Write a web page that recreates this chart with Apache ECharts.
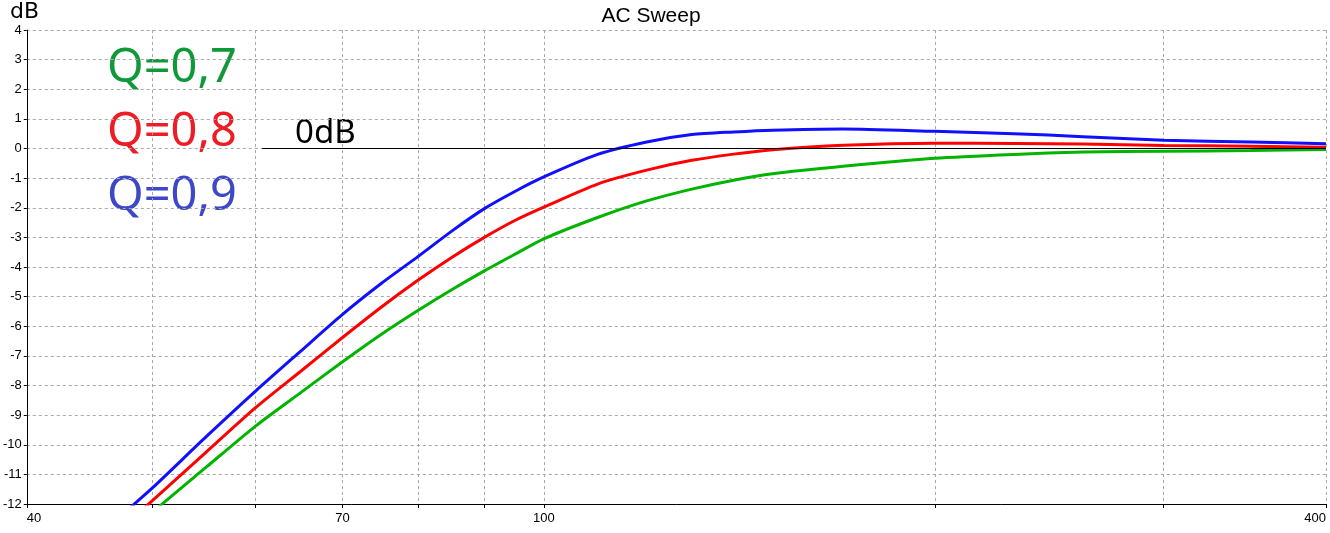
<!DOCTYPE html>
<html>
<head>
<meta charset="utf-8">
<script src="https://cdn.jsdelivr.net/npm/echarts@6/dist/echarts.min.js"></script>
<style>
html,body{margin:0;padding:0;background:#fff;}
#chart{width:1330px;height:533px;}
</style>
</head>
<body>
<div id="chart"></div>
<script>
// Frequencies (Hz) and responses (dB)
const freqs = [48, 50, 55, 60, 65, 70, 75, 80, 85, 90, 95, 100, 110, 120, 130, 140, 150, 170, 200, 230, 260, 300, 350, 400];
const q07 = [-13.1, -12.28, -10.75, -9.37, -8.24, -7.2, -6.27, -5.47, -4.76, -4.13, -3.57, -3.05, -2.33, -1.77, -1.37, -1.07, -0.85, -0.6, -0.33, -0.2, -0.12, -0.09, -0.07, -0.03];
const q08 = [-12.57, -11.88, -10.24, -8.75, -7.52, -6.38, -5.35, -4.45, -3.67, -3.0, -2.43, -1.98, -1.2, -0.73, -0.4, -0.19, -0.04, 0.11, 0.18, 0.17, 0.15, 0.1, 0.08, 0.04];
const q09 = [-12.14, -11.45, -9.72, -8.19, -6.84, -5.6, -4.55, -3.65, -2.78, -2.03, -1.45, -0.96, -0.2, 0.22, 0.47, 0.56, 0.62, 0.66, 0.58, 0.5, 0.4, 0.28, 0.22, 0.16];
const gridFreqs = [40, 50, 60, 70, 80, 90, 100, 200, 300, 400];
const labelFreqs = [40, 70, 100, 400];
const yTicks = [-12, 4, 1]; // min, max, interval
const zeroLineFreqs = [60.7, 400];
const seriesNames = ['Q=0,7', 'Q=0,8', 'Q=0,9'];

const lg = Math.log10;
const toData = vals => freqs.map((f, i) => [lg(f), vals[i]]);

const chart = echarts.init(document.getElementById('chart'), null, {renderer: 'canvas'});
const gridColor = '#a8a8a8';
const axisFont = {fontFamily: 'Liberation Sans, Arial, sans-serif', fontSize: 13, color: '#000'};

const lineSeries = (name, vals, color) => ({
  name, type: 'line', data: toData(vals), showSymbol: false, symbol: 'none',
  smooth: 0.25, clip: true,
  lineStyle: {color, width: 3}, itemStyle: {color}, z: 3
});

chart.setOption({
  animation: false,
  backgroundColor: '#fff',
  title: {
    text: 'AC Sweep', left: 646, top: 1, textAlign: 'center',
    textStyle: {fontFamily: 'Liberation Sans, Arial, sans-serif', fontSize: 21, fontWeight: 'normal', color: '#000'}
  },
  grid: {left: 24, right: 4, top: 30, bottom: 29, containLabel: false},
  xAxis: {
    type: 'value', min: lg(40), max: lg(400),
    axisLine: {show: true, onZero: false, lineStyle: {color: '#000', width: 1}},
    axisTick: {show: true, customValues: gridFreqs.map(lg), length: 4, lineStyle: {color: '#000'}},
    splitLine: {show: true, lineStyle: {color: gridColor, type: [3, 3], width: 1}},
    axisLabel: Object.assign({
      customValues: labelFreqs.map(lg), margin: 8,
      formatter: v => String(Math.round(Math.pow(10, v))),
      alignMinLabel: 'left', alignMaxLabel: 'right'
    }, axisFont)
  },
  yAxis: {
    type: 'value', min: yTicks[0], max: yTicks[1], interval: yTicks[2],
    axisLine: {show: true, onZero: false, lineStyle: {color: '#000', width: 1}},
    axisTick: {show: true, length: 3, lineStyle: {color: '#000'}},
    splitLine: {show: true, lineStyle: {color: gridColor, type: [3, 3], width: 1}},
    axisLabel: Object.assign({margin: 5}, axisFont)
  },
  series: [
    lineSeries(seriesNames[0], q07, '#00b400'),
    lineSeries(seriesNames[1], q08, '#ff0000'),
    Object.assign(lineSeries(seriesNames[2], q09, '#1010ff'), {
      markLine: {
        silent: true, symbol: ['none', 'none'], label: {show: false},
        lineStyle: {color: '#000', width: 1, type: 'solid'},
        data: [[{coord: [lg(zeroLineFreqs[0]), 0]}, {coord: [lg(zeroLineFreqs[1]), 0]}]]
      }
    })
  ],
  graphic: [
    {type: 'text', left: 10, top: 1, style: {text: 'dB', font: '22px "DejaVu Sans", sans-serif', fill: '#000'}},
    {type: 'text', left: 107, top: 45, style: {text: seriesNames[0], font: '47px "Noto Sans", "Open Sans", sans-serif', fill: '#10993a'}},
    {type: 'text', left: 107, top: 109, style: {text: seriesNames[1], font: '47px "Noto Sans", "Open Sans", sans-serif', fill: '#ee1c25'}},
    {type: 'text', left: 107, top: 173, style: {text: seriesNames[2], font: '47px "Noto Sans", "Open Sans", sans-serif', fill: '#3d48c9'}},
    {type: 'text', left: 295, top: 117, style: {text: '0dB', font: '33px "Noto Sans", "Open Sans", sans-serif', fill: '#000'}}
  ]
});
</script>
</body>
</html>
